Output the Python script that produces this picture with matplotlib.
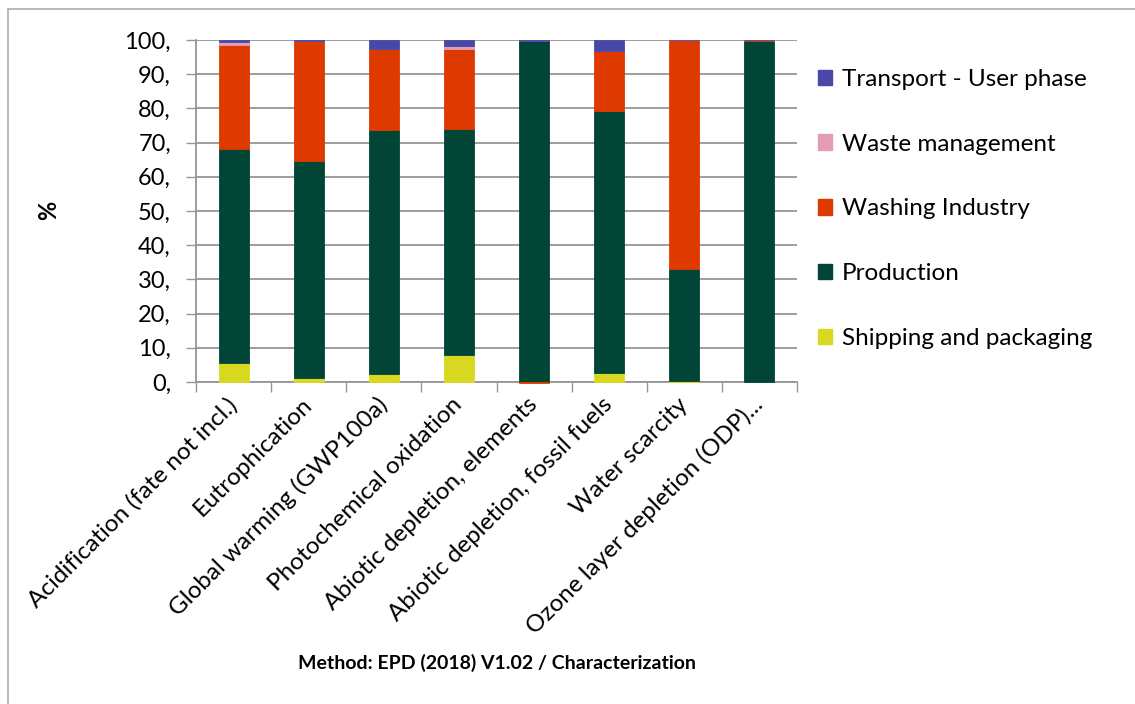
import matplotlib
matplotlib.use("Agg")
import matplotlib.pyplot as plt
from matplotlib.lines import Line2D
from matplotlib.patches import Patch
import numpy as np

plt.rcParams['font.family'] = ['Lato', 'DejaVu Sans']

categories = [
    "Acidification (fate not incl.)",
    "Eutrophication",
    "Global warming (GWP100a)",
    "Photochemical oxidation",
    "Abiotic depletion, elements",
    "Abiotic depletion, fossil fuels",
    "Water scarcity",
    "Ozone layer depletion (ODP)...",
]

# Contribution of each life-cycle stage, in percent
shipping = [5.6, 1.2, 2.3, 7.9, 0.0, 2.6, 0.4, 0.0]
production = [62.5, 63.4, 71.4, 66.1, 99.7, 76.6, 32.6, 99.8]
washing = [30.4, 35.0, 23.6, 23.5, -0.3, 17.7, 67.0, 0.1]
waste = [0.8, 0.0, 0.1, 0.8, 0.0, 0.0, 0.0, 0.0]
transport = [0.7, 0.4, 2.6, 1.7, 0.3, 3.1, 0.0, 0.1]

series = [
    ("Shipping and packaging", shipping, "#D8D820"),
    ("Production", production, "#004536"),
    ("Washing Industry", washing, "#DE3A00"),
    ("Waste management", waste, "#E39DB5"),
    ("Transport - User phase", transport, "#4848A8"),
]

y_ticks = [0, 10, 20, 30, 40, 50, 60, 70, 80, 90, 100]
y_tick_labels = ["0,", "10,", "20,", "30,", "40,", "50,", "60,", "70,", "80,", "90,", "100,"]

fig = plt.figure(figsize=(11.35, 7.04), dpi=100)
ax = fig.add_axes([196 / 1135, 1 - 382 / 704, 601 / 1135, 342 / 704])

x = np.arange(len(categories))
pos_bottom = np.zeros(len(categories))
neg_bottom = np.zeros(len(categories))
handles = []
for name, vals, color in series:
    vals = np.asarray(vals, dtype=float)
    bottom = np.where(vals >= 0, pos_bottom, neg_bottom)
    ax.bar(x, vals, width=0.4, bottom=bottom, color=color,
           edgecolor=color, linewidth=0.6, zorder=3, clip_on=False)
    pos_bottom += np.where(vals >= 0, vals, 0)
    neg_bottom += np.where(vals < 0, vals, 0)
    handles.append(Patch(facecolor=color, edgecolor=color, label=name))

ax.set_xlim(-0.5, len(categories) - 0.5)
ax.set_ylim(0, 100)
ax.set_yticks(y_ticks)
ax.set_yticklabels(y_tick_labels, fontsize=17)
ax.yaxis.grid(True, color="#969696", linewidth=1.3, zorder=0)
ax.tick_params(axis="y", length=7, width=1, color="#969696", pad=11)

ax.set_xticks(x)
ax.set_xticklabels(categories, rotation=45, ha="right", va="center",
                   rotation_mode="anchor", fontsize=17.5)
ax.tick_params(axis="x", which="major", length=0, pad=14)
ax.set_xticks(np.arange(len(categories) + 1) - 0.5, minor=True)
ax.tick_params(axis="x", which="minor", length=7, width=1, color="#969696")

for side in ("top", "right"):
    ax.spines[side].set_visible(False)
for side in ("left", "bottom"):
    ax.spines[side].set_color("#969696")
    ax.spines[side].set_linewidth(1.3)

ax.set_ylabel("%", fontsize=17, fontweight="bold")
ax.yaxis.set_label_coords((60 - 196) / 601, (382 - 210) / 342)

fig.text(497 / 1135, 1 - 663 / 704, "Method: EPD (2018) V1.02 / Characterization",
         ha="center", va="center", fontsize=14, fontweight="bold")

fig.legend(handles=handles[::-1], loc="upper left",
           bbox_to_anchor=(796 / 1135, 1 - 47 / 704), frameon=False,
           fontsize=17.5, handlelength=0.6, handleheight=0.6, handletextpad=0.4,
           labelspacing=1.80)

# Outer chart frame
frame_color = "#B4B4B4"
fig.add_artist(Line2D([8 / 1135, 8 / 1135], [0, 1 - 9 / 704],
                      transform=fig.transFigure, color=frame_color, linewidth=1.3))
fig.add_artist(Line2D([8 / 1135, 1], [1 - 9 / 704, 1 - 9 / 704],
                      transform=fig.transFigure, color=frame_color, linewidth=1.3))

fig.savefig("out.png", dpi=100, facecolor="white")
